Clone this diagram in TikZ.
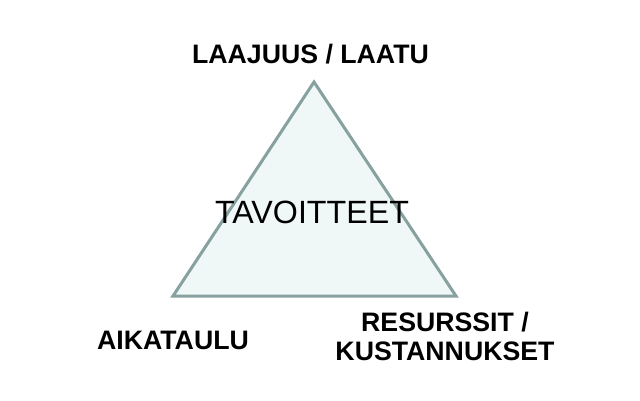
\documentclass[tikz,border=0pt]{standalone}
\usepackage{fontspec}
\setmainfont{Liberation Sans}
\definecolor{triedge}{RGB}{135,160,160}
\definecolor{trifill}{RGB}{239,247,247}
\tikzset{
  lbl/.style={font=\bfseries\fontsize{26.7}{29}\selectfont, inner sep=0pt, anchor=base, align=center},
  ctr/.style={font=\fontsize{32.2}{36}\selectfont, inner sep=0pt, anchor=base},
  tri/.style={draw=triedge, fill=trifill, line width=3pt, line join=miter}
}
\begin{document}
\begin{tikzpicture}[x=1pt,y=-1pt]
\useasboundingbox (0,0) rectangle (640,400);
\coordinate (top) at (314,82);
\coordinate (bl) at (173,296);
\coordinate (br) at (456,296);
\draw[tri] (top) -- (br) -- (bl) -- cycle;
\node[ctr] (goal) at (312,223.3) {TAVOITTEET};
\node[lbl] (scope) at (310.5,63.3) {LAAJUUS / LAATU};
\node[lbl] (time) at (173,349) {AIKATAULU};
\node[lbl] (res) at (445,360.7) {RESURSSIT /\\KUSTANNUKSET};
\end{tikzpicture}
\end{document}
